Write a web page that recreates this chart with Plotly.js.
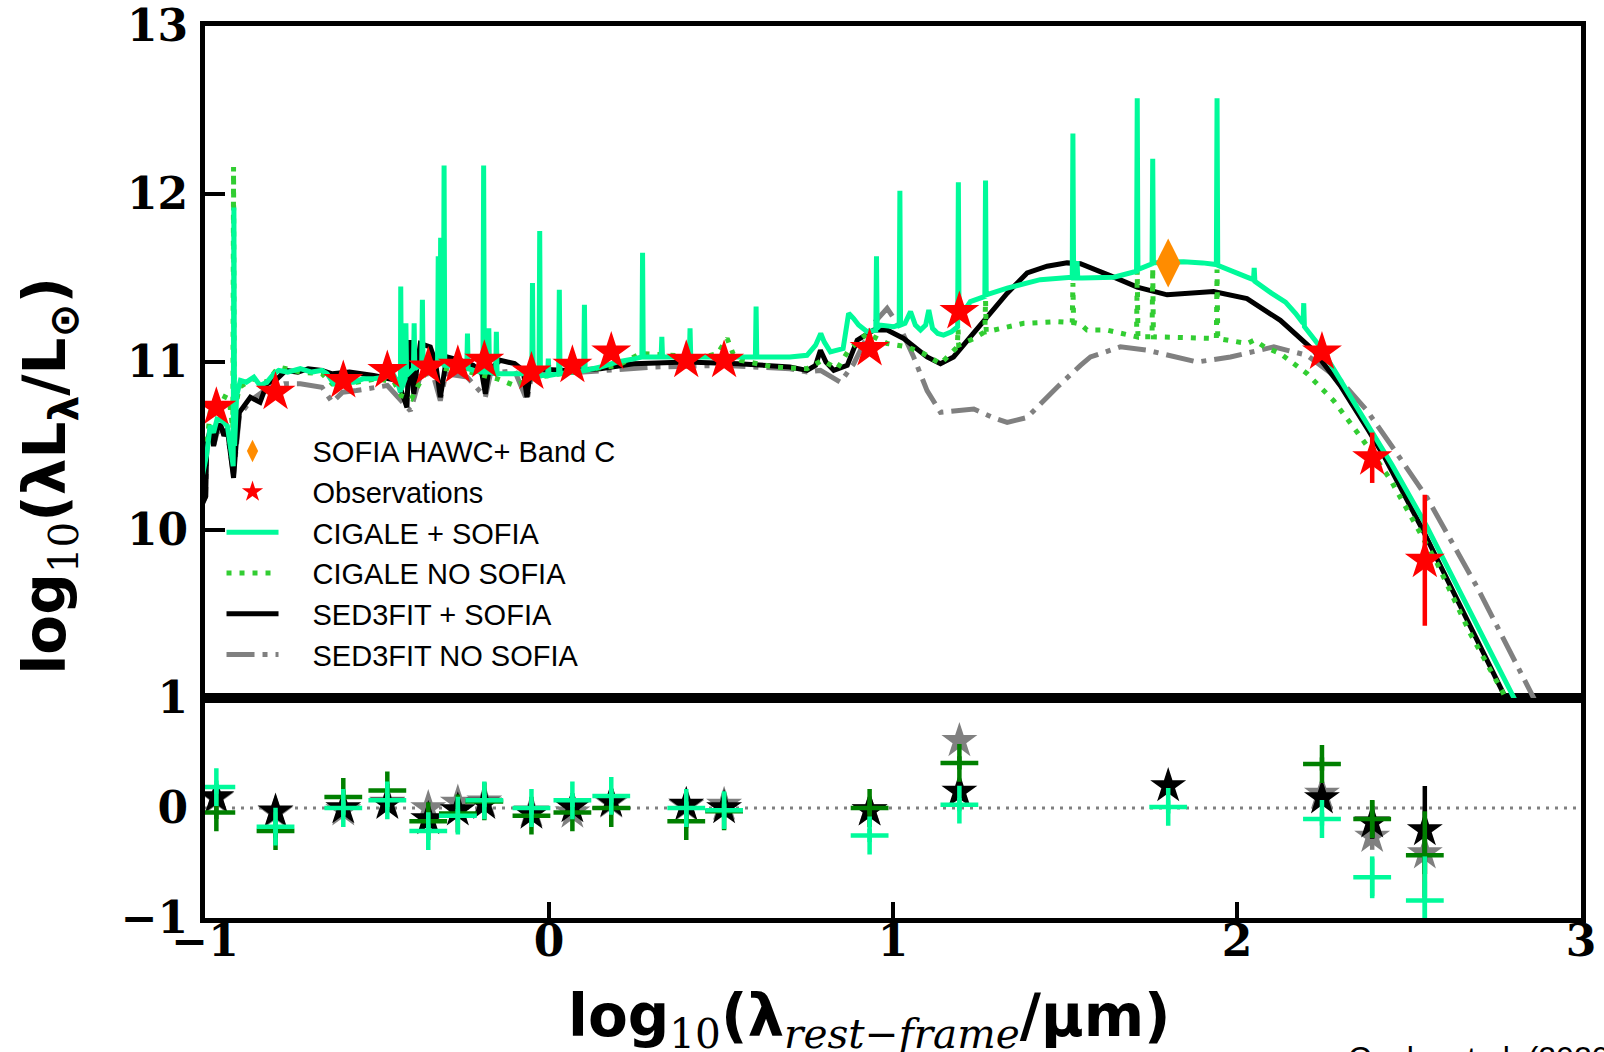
<!DOCTYPE html>
<html><head><meta charset="utf-8">
<script src="https://cdn.plot.ly/plotly-3.0.1.min.js"></script>
<style>html,body{margin:0;padding:0;background:#fff;}#plot{width:1604px;height:1052px;}</style>
</head><body><div id="plot"></div>
<script>
// ---------- SED model curves: [log10(lambda/um), log10(lambda L_lambda / Lsun)] ----------
const cigaleSofia = [[-1.02,10.2],[-0.995,10.45],[-0.985,10.62],[-0.975,10.58],[-0.965,10.66],[-0.95,10.65],[-0.935,10.62],[-0.922,10.45],[-0.918,10.38],[-0.916,11.92],[-0.914,10.5],[-0.908,10.8],[-0.897,10.89],[-0.88,10.88],[-0.858,10.91],[-0.84,10.86],[-0.82,10.88],[-0.80,10.93],[-0.786,10.95],[-0.76,10.94],[-0.723,10.96],[-0.69,10.94],[-0.66,10.95],[-0.645,10.93],[-0.626,10.87],[-0.60,10.88],[-0.568,10.88],[-0.54,10.9],[-0.51,10.9],[-0.48,10.91],[-0.451,10.92],[-0.44,10.88],[-0.432,10.82],[-0.431,11.45],[-0.429,10.84],[-0.418,10.9],[-0.416,11.23],[-0.414,10.92],[-0.40,10.95],[-0.394,10.96],[-0.392,11.23],[-0.39,10.96],[-0.375,10.98],[-0.370,10.98],[-0.368,11.37],[-0.366,10.98],[-0.335,10.99],[-0.324,10.99],[-0.322,11.63],[-0.32,10.99],[-0.317,10.99],[-0.315,11.74],[-0.313,10.99],[-0.307,10.99],[-0.305,12.17],[-0.303,10.98],[-0.27,10.97],[-0.239,10.96],[-0.237,11.17],[-0.235,10.96],[-0.20,10.94],[-0.192,10.94],[-0.19,12.17],[-0.188,10.94],[-0.177,10.94],[-0.175,11.2],[-0.173,10.94],[-0.155,10.93],[-0.153,11.18],[-0.151,10.93],[-0.117,10.93],[-0.093,10.93],[-0.050,10.93],[-0.048,11.47],[-0.046,10.93],[-0.029,10.92],[-0.027,11.78],[-0.025,10.92],[-0.004,10.92],[-0.002,11.02],[0.0,10.92],[0.028,10.93],[0.03,11.43],[0.032,10.93],[0.06,10.94],[0.101,10.95],[0.103,11.34],[0.105,10.95],[0.15,10.97],[0.198,11.0],[0.25,11.02],[0.270,11.03],[0.272,11.65],[0.274,11.03],[0.30,11.03],[0.326,11.03],[0.328,11.15],[0.33,11.03],[0.37,11.03],[0.408,11.03],[0.41,11.2],[0.412,11.03],[0.50,11.03],[0.600,11.03],[0.602,11.33],[0.604,11.03],[0.70,11.03],[0.75,11.04],[0.775,11.1],[0.79,11.17],[0.80,11.12],[0.818,11.06],[0.855,11.08],[0.871,11.29],[0.885,11.26],[0.90,11.22],[0.925,11.18],[0.950,11.19],[0.952,11.63],[0.954,11.2],[0.963,11.22],[1.002,11.21],[1.018,11.22],[1.02,12.02],[1.022,11.22],[1.035,11.23],[1.051,11.3],[1.065,11.22],[1.08,11.19],[1.095,11.22],[1.104,11.31],[1.115,11.2],[1.13,11.17],[1.147,11.16],[1.17,11.18],[1.188,11.21],[1.19,12.07],[1.192,11.26],[1.225,11.36],[1.25,11.38],[1.267,11.39],[1.269,12.08],[1.271,11.4],[1.332,11.44],[1.428,11.49],[1.521,11.505],[1.523,12.36],[1.525,11.5],[1.533,11.5],[1.535,11.6],[1.537,11.5],[1.55,11.5],[1.642,11.505],[1.708,11.54],[1.71,12.57],[1.712,11.55],[1.753,11.585],[1.755,12.21],[1.757,11.59],[1.80,11.595],[1.845,11.597],[1.90,11.59],[1.94,11.58],[1.942,12.57],[1.944,11.575],[2.029,11.505],[2.048,11.49],[2.05,11.56],[2.052,11.48],[2.10,11.41],[2.141,11.356],[2.17,11.29],[2.192,11.23],[2.194,11.35],[2.196,11.21],[2.242,11.09],[2.32,10.83],[2.45,10.39],[2.552,10.02],[2.65,9.63],[2.799,9.026],[2.83,8.9]];

const cigaleNoSofia = [[-1.02,10.3],[-0.995,10.5],[-0.985,10.7],[-0.97,10.78],[-0.95,10.8],[-0.93,10.78],[-0.919,10.6],[-0.917,12.16],[-0.915,10.7],[-0.9,10.85],[-0.86,10.9],[-0.82,10.88],[-0.786,10.97],[-0.723,10.94],[-0.66,10.93],[-0.63,10.87],[-0.56,10.88],[-0.5,10.9],[-0.45,10.88],[-0.43,10.8],[-0.40,10.78],[-0.37,10.9],[-0.34,10.98],[-0.30,10.96],[-0.25,10.95],[-0.19,10.92],[-0.15,10.9],[-0.1,10.86],[-0.05,10.9],[0.0,10.92],[0.1,10.95],[0.2,10.98],[0.266,11.05],[0.363,11.04],[0.45,11.03],[0.49,11.05],[0.518,11.14],[0.535,11.05],[0.557,11.01],[0.654,10.97],[0.75,10.96],[0.794,11.01],[0.838,10.96],[0.871,11.07],[0.925,11.17],[0.983,11.11],[1.041,11.09],[1.089,11.05],[1.138,10.99],[1.187,11.09],[1.189,11.2],[1.191,11.1],[1.235,11.14],[1.267,11.18],[1.269,11.37],[1.271,11.18],[1.293,11.19],[1.38,11.23],[1.477,11.24],[1.521,11.235],[1.523,11.47],[1.525,11.235],[1.545,11.225],[1.564,11.19],[1.622,11.19],[1.708,11.15],[1.71,11.545],[1.712,11.15],[1.753,11.15],[1.755,11.56],[1.757,11.15],[1.835,11.148],[1.94,11.14],[1.942,11.55],[1.944,11.14],[2.029,11.11],[2.05,11.13],[2.08,11.09],[2.126,11.05],[2.204,10.93],[2.281,10.77],[2.368,10.53],[2.446,10.3],[2.582,9.8],[2.679,9.38],[2.775,9.025],[2.80,8.92]];

const sed3fitSofia = [[-1.02,10.1],[-0.998,10.2],[-0.995,10.5],[-0.985,10.6],[-0.975,10.5],[-0.965,10.6],[-0.955,10.63],[-0.945,10.56],[-0.935,10.6],[-0.925,10.45],[-0.917,10.31],[-0.91,10.5],[-0.9,10.7],[-0.868,10.79],[-0.84,10.76],[-0.82,10.87],[-0.79,10.9],[-0.765,10.95],[-0.73,10.94],[-0.70,10.96],[-0.66,10.95],[-0.63,10.93],[-0.58,10.94],[-0.51,10.92],[-0.46,10.9],[-0.44,10.89],[-0.423,10.79],[-0.413,10.73],[-0.408,11.0],[-0.403,11.13],[-0.398,10.9],[-0.393,10.81],[-0.385,10.95],[-0.374,11.11],[-0.345,11.09],[-0.33,11.0],[-0.316,10.79],[-0.305,10.95],[-0.297,11.03],[-0.258,11.01],[-0.22,10.98],[-0.195,10.93],[-0.185,10.81],[-0.175,10.95],[-0.142,11.01],[-0.10,10.99],[-0.075,10.95],[-0.064,10.79],[-0.055,10.93],[-0.045,10.96],[0.052,10.95],[0.149,10.96],[0.246,10.99],[0.40,11.0],[0.55,10.99],[0.70,10.97],[0.75,10.95],[0.775,10.98],[0.789,11.07],[0.805,11.0],[0.828,10.95],[0.867,10.98],[0.896,11.13],[0.944,11.19],[0.983,11.19],[1.031,11.14],[1.06,11.09],[1.099,11.03],[1.138,10.99],[1.176,11.03],[1.225,11.15],[1.273,11.27],[1.332,11.41],[1.39,11.53],[1.448,11.57],[1.506,11.59],[1.545,11.585],[1.642,11.505],[1.71,11.446],[1.797,11.4],[1.932,11.42],[2.029,11.377],[2.126,11.248],[2.223,11.069],[2.30,10.86],[2.38,10.6],[2.43,10.43],[2.54,10.0],[2.66,9.5],[2.775,9.025],[2.81,8.88]];

const sed3fitNoSofia = [[-1.02,10.1],[-0.998,10.2],[-0.995,10.5],[-0.985,10.58],[-0.975,10.5],[-0.965,10.58],[-0.95,10.6],[-0.935,10.58],[-0.917,10.33],[-0.9,10.68],[-0.868,10.77],[-0.82,10.84],[-0.77,10.87],[-0.723,10.87],[-0.66,10.85],[-0.63,10.76],[-0.6,10.82],[-0.56,10.83],[-0.47,10.86],[-0.43,10.77],[-0.403,10.71],[-0.39,10.8],[-0.37,10.95],[-0.335,10.91],[-0.316,10.77],[-0.30,10.93],[-0.238,10.91],[-0.185,10.79],[-0.17,10.93],[-0.1,10.95],[-0.064,10.77],[-0.05,10.93],[0.1,10.94],[0.3,10.97],[0.5,10.98],[0.7,10.96],[0.75,10.94],[0.789,10.95],[0.847,10.88],[0.886,10.99],[0.944,11.23],[0.983,11.32],[1.022,11.2],[1.06,11.03],[1.099,10.83],[1.138,10.7],[1.19,10.71],[1.235,10.72],[1.29,10.67],[1.332,10.64],[1.39,10.67],[1.477,10.85],[1.545,10.98],[1.574,11.03],[1.661,11.09],[1.739,11.07],[1.884,11.0],[1.981,11.03],[2.107,11.09],[2.204,11.04],[2.301,10.89],[2.378,10.71],[2.46,10.47],[2.553,10.19],[2.698,9.66],[2.843,9.085],[2.87,8.97]];

// ---------- photometry ----------
const obsX   = [-0.967,-0.795,-0.598,-0.470,-0.351,-0.265,-0.188,-0.051,0.068,0.181,0.399,0.509,0.932,1.193,2.247,2.393,2.546];
const obsY   = [10.73,10.82,10.89,10.95,10.97,10.98,11.01,10.94,10.98,11.06,11.01,11.01,11.08,11.30,11.06,10.43,9.82];
const obsErr = [0.02,0.02,0.02,0.02,0.02,0.02,0.02,0.02,0.02,0.02,0.02,0.02,0.02,0.03,0.03,0.15,0.39];
const sofiaX = [1.8];
const sofiaY = [11.59];

// ---------- residuals ----------
const resXAll   = [-0.967,-0.795,-0.598,-0.470,-0.351,-0.265,-0.188,-0.051,0.068,0.181,0.399,0.509,0.932,1.193,1.8,2.247,2.393,2.546];
const resXNoSof = [-0.967,-0.795,-0.598,-0.470,-0.351,-0.265,-0.188,-0.051,0.068,0.181,0.399,0.509,0.932,1.193,2.247,2.393,2.546];
const resSed3fitSofia   = [0.10,-0.03,0.0,0.04,-0.10,-0.02,0.04,-0.05,0.01,0.06,0.03,0.0,-0.02,0.15,0.20,0.09,-0.13,-0.20];
const errSed3fitSofia   = [0.03,0.03,0.03,0.03,0.03,0.03,0.03,0.03,0.03,0.03,0.03,0.03,0.03,0.03,0.03,0.03,0.15,0.40];
const resSed3fitNoSofia = [0.09,-0.04,-0.02,0.05,0.0,0.05,0.06,-0.03,-0.04,0.05,0.02,0.03,-0.02,0.61,0.13,-0.26,-0.41];
const errSed3fitNoSofia = [0.03,0.03,0.03,0.03,0.03,0.03,0.03,0.03,0.03,0.03,0.03,0.03,0.03,0.03,0.03,0.12,0.40];
const resCigaleNoSofia  = [-0.04,-0.21,0.10,0.16,-0.12,-0.05,0.06,-0.07,-0.04,0.0,-0.12,-0.03,0.0,0.41,0.40,-0.10,-0.43];
const errCigaleNoSofia  = [0.06,0.06,0.06,0.06,0.06,0.06,0.06,0.06,0.06,0.06,0.06,0.06,0.06,0.06,0.06,0.17,0.40];
const resCigaleSofia    = [0.19,-0.17,0.0,0.07,-0.21,-0.07,0.07,0.0,0.07,0.11,0.0,-0.02,-0.25,0.03,0.01,-0.10,-0.63,-0.84];
const errCigaleSofia    = [0.06,0.06,0.06,0.06,0.06,0.06,0.06,0.06,0.06,0.06,0.06,0.06,0.06,0.06,0.06,0.06,0.19,0.40];
const zeroLineX = [-1, 3];
const zeroLineY = [0, 0];

const xTicks = [-1,0,1,2,3];
const xTickText = ['−1','0','1','2','3'];
const yTopTicks = [10,11,12,13];
const yBotTicks = [-1,0,1];
const yBotTickText = ['−1','0','1'];

// ---------- colours ----------
const C_CYAN = '#00FA9A', C_LIME = '#32CD32', C_GREEN = '#008000', C_GRAY = '#808080';

const xs = a => a.map(p => p[0]);
const ys = a => a.map(p => p[1]);
const LW = 5;
const PAD = '\u2003';

const traces = [
  {x: xs(sed3fitNoSofia), y: ys(sed3fitNoSofia), xaxis:'x2', yaxis:'y2', mode:'lines', name:PAD+'SED3FIT NO SOFIA', legendrank:6,
   line:{color:C_GRAY, width:LW, dash:'28px,8px,5px,8px'}},
  {x: xs(sed3fitSofia), y: ys(sed3fitSofia), xaxis:'x2', yaxis:'y2', mode:'lines', name:PAD+'SED3FIT + SOFIA', legendrank:5,
   line:{color:'black', width:LW}},
  {x: xs(cigaleNoSofia), y: ys(cigaleNoSofia), xaxis:'x2', yaxis:'y2', mode:'lines', name:PAD+'CIGALE NO SOFIA', legendrank:4,
   line:{color:C_LIME, width:LW, dash:'5px,8px'}},
  {x: xs(cigaleSofia), y: ys(cigaleSofia), xaxis:'x2', yaxis:'y2', mode:'lines', name:PAD+'CIGALE + SOFIA', legendrank:3,
   line:{color:C_CYAN, width:LW}},
  {x: obsX, y: obsY, xaxis:'x2', yaxis:'y2', mode:'markers', name:PAD+'Observations', legendrank:2,
   error_y:{type:'data', array:obsErr, visible:true, color:'red', thickness:4.5, width:0},
   marker:{symbol:'star', size:30, color:'red', line:{width:0}}},
  {x: sofiaX, y: sofiaY, xaxis:'x2', yaxis:'y2', mode:'markers', name:PAD+'SOFIA HAWC+ Band C', legendrank:1,
   marker:{symbol:'diamond-tall', size:35, color:'#FF8C00', line:{width:0}}},
  // residual panel
  {x: zeroLineX, y: zeroLineY, xaxis:'x', yaxis:'y', mode:'lines', showlegend:false,
   line:{color:C_GRAY, width:3, dash:'3px,6px'}},
  {x: resXNoSof, y: resSed3fitNoSofia, xaxis:'x', yaxis:'y', mode:'markers', showlegend:false,
   error_y:{type:'data', array:errSed3fitNoSofia, visible:true, color:C_GRAY, thickness:4.5, width:0},
   marker:{symbol:'star', size:27, color:C_GRAY}},
  {x: resXAll, y: resSed3fitSofia, xaxis:'x', yaxis:'y', mode:'markers', showlegend:false,
   error_y:{type:'data', array:errSed3fitSofia, visible:true, color:'black', thickness:4.5, width:0},
   marker:{symbol:'star', size:27, color:'black'}},
  {x: resXNoSof, y: resCigaleNoSofia, xaxis:'x', yaxis:'y', mode:'markers', showlegend:false,
   error_y:{type:'data', array:errCigaleNoSofia, visible:true, color:C_GREEN, thickness:4.5, width:0},
   marker:{symbol:'cross-thin', size:27, color:C_GREEN, line:{color:C_GREEN, width:4.5}}},
  {x: resXAll, y: resCigaleSofia, xaxis:'x', yaxis:'y', mode:'markers', showlegend:false,
   error_y:{type:'data', array:errCigaleSofia, visible:true, color:C_CYAN, thickness:4.5, width:0},
   marker:{symbol:'cross-thin', size:27, color:C_CYAN, line:{color:C_CYAN, width:4.5}}}
];

const tickFont = {family:'DejaVu Serif', size:44, color:'black', weight:'bold'};
const split = 220/892;

const layout = {
  width:1604, height:1052,
  margin:{l:205, r:23, t:26, b:134, pad:0},
  paper_bgcolor:'white', plot_bgcolor:'white',
  showlegend:true,
  legend:{x:0.012, y:0.552, xanchor:'left', yanchor:'top', bgcolor:'rgba(0,0,0,0)', borderwidth:0,
          font:{family:'Liberation Sans', size:29, color:'black'}, traceorder:'normal', itemwidth:52},
  xaxis:{domain:[0,1], anchor:'y', range:[-1,3], tickvals:xTicks, ticktext:xTickText,
         ticks:'inside', ticklen:16, tickwidth:3.5, tickcolor:'black', ticklabelstandoff:-20,
         showline:true, linewidth:5, linecolor:'black', mirror:true, showgrid:false, zeroline:false, tickfont:tickFont},
  xaxis2:{domain:[0,1], anchor:'y2', matches:'x', range:[-1,3], showticklabels:false, ticks:'',
          showline:true, linewidth:5, linecolor:'black', mirror:true, showgrid:false, zeroline:false},
  yaxis:{domain:[0,split], anchor:'x', range:[-1,1], tickvals:yBotTicks, ticktext:yBotTickText, ticks:'',
         ticklabelstandoff:3, showline:true, linewidth:5, linecolor:'black', mirror:true, showgrid:false, zeroline:false, tickfont:tickFont},
  yaxis2:{domain:[split,1], anchor:'x2', range:[9,13], tickvals:yTopTicks, ticks:'inside', ticklen:20, tickwidth:4, tickcolor:'black',
          ticklabelstandoff:3, showline:true, linewidth:5, linecolor:'black', mirror:true, showgrid:false, zeroline:false, tickfont:tickFont},
  annotations:[
    {xref:'paper', yref:'paper', x:-0.113, y:0.4955, xanchor:'center', yanchor:'middle', textangle:-90, showarrow:false,
     text:'<b>log</b><sub><span style="font-family:DejaVu Serif">10</span></sub><b>(λL<sub>λ</sub>/L<sub>⊙</sub>)</b>',
     font:{family:'DejaVu Sans', size:58, color:'black'}},
    {xref:'paper', yref:'paper', x:0.4829, y:-0.114, xanchor:'center', yanchor:'middle', showarrow:false,
     text:'<b>log</b><sub><span style="font-family:DejaVu Serif">10</span></sub><b>(λ</b><sub><span style="font-family:DejaVu Serif"><i>rest−frame</i></span></sub><b>/μm)</b>',
     font:{family:'DejaVu Sans', size:58, color:'black'}},
    {xref:'paper', yref:'paper', x:0.8295, y:-0.1345, xanchor:'left', yanchor:'top', showarrow:false,
     text:'Cooke et al. (2020)', font:{family:'Liberation Sans', size:32, color:'black'}}
  ]
};

Plotly.newPlot('plot', traces, layout, {displayModeBar:false, responsive:false});
</script></body></html>
